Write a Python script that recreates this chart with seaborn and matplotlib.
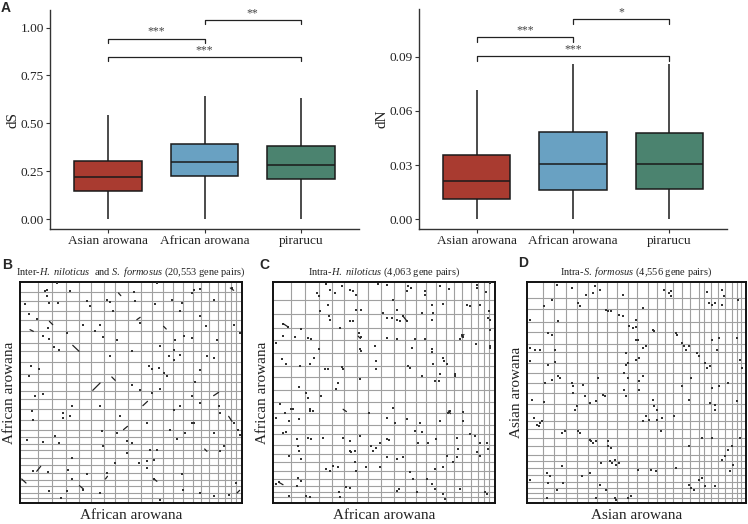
import numpy as np
import pandas as pd
import matplotlib
matplotlib.use("Agg")
import matplotlib.pyplot as plt
import seaborn as sns

sns.set_theme(style="white")
plt.rcParams["font.family"] = ["Liberation Serif", "DejaVu Serif"]
plt.rcParams["mathtext.fontset"] = "custom"
plt.rcParams["mathtext.rm"] = "Liberation Serif"
plt.rcParams["mathtext.it"] = "Liberation Serif:italic"

# ---------------- data: panel A (five-number summaries: min, q1, median, q3, max)
species = ["Asian arowana", "African arowana", "pirarucu"]
box_colors = ["#A93B30", "#69A1C2", "#4B836F"]
ds_asian = [0.0, 0.146, 0.221, 0.304, 0.543]
ds_african = [0.0, 0.226, 0.296, 0.391, 0.645]
ds_pirarucu = [0.0, 0.210, 0.282, 0.381, 0.633]
dn_asian = [0.0, 0.0111, 0.0213, 0.0354, 0.0717]
dn_african = [0.0, 0.0163, 0.0307, 0.0481, 0.0861]
dn_pirarucu = [0.0, 0.0167, 0.0307, 0.0480, 0.0861]
ds_ticks = [0.00, 0.25, 0.50, 0.75, 1.00]
dn_ticks = [0.00, 0.03, 0.06, 0.09]
bracket_left = [0, 1, 0]
bracket_right = [1, 2, 2]
bracket_labels_ds = ["***", "**", "***"]
bracket_labels_dn = ["***", "*", "***"]
ds_bracket_y = [0.943, 1.040, 0.847]
dn_bracket_y = [0.1009, 0.1109, 0.0904]

# ---------------- data: dot plots (positions in Mb; genome lengths)
HN_LEN = 665
SF_LEN = 663
# chromosome boundaries as percent of genome
hn_bounds = [8.3, 14.5, 20.8, 26.4, 32.2, 37.8, 43.0, 48.7, 54.4, 59.5, 64.6,
             68.8, 73.6, 77.9, 81.6, 85.3, 89.2, 92.3, 94.9, 97.3]
sf_bounds_B = [4.5, 8.4, 13.2, 17.4, 22.2, 27.4, 31.4, 36.4, 41.6, 45.4, 49.1,
               52.8, 57.3, 62.6, 67.1, 70.1, 73.1, 76.0, 79.8, 82.8, 86.5, 89.5,
               92.5, 95.5, 97.8]
sf_bounds = [7.3, 12.2, 18.0, 22.7, 27.9, 31.8, 36.6, 41.2, 45.9, 50.4, 55.2,
             59.4, 63.0, 66.7, 70.6, 74.4, 78.4, 80.9, 84.1, 87.4, 90.4, 93.4,
             95.7, 97.6]

B_x = [75, 80, 80, 110, 150, 88, 115, 15, 28, 50, 85, 70, 88, 102, 118, 140, 32, 28, 58, 70,
       45, 35, 40, 130, 130, 150, 155, 22, 68, 118, 105, 155, 38, 85, 145, 155, 88, 140, 122, 190,
       202, 240, 260, 285, 320, 355, 380, 402, 400, 420, 485, 488, 538, 580, 625, 648, 600, 610, 580, 520,
       495, 515, 470, 450, 460, 480, 515, 540, 595, 600, 640, 652, 658, 525, 540, 560, 580, 590, 660, 640,
       580, 520, 540, 635, 540, 515, 490, 465, 460, 420, 385, 395, 415, 430, 440, 460, 480, 445, 335, 270,
       240, 190, 200, 210, 260, 270, 280, 340, 345, 405, 410, 455, 485, 480, 515, 558, 290, 225, 250, 360,
       335, 360, 395, 420, 300, 240, 245, 290, 250, 335, 320, 380, 390, 410, 380]
B_y = [28, 23, 41, 3, 28, 63, 63, 65, 95, 111, 138, 161, 171, 195, 203, 153, 251, 281, 261, 335,
       343, 388, 413, 393, 408, 403, 373, 475, 481, 483, 463, 528, 568, 571, 563, 591, 628, 628, 648, 623,
       575, 633, 573, 543, 513, 543, 558, 535, 591, 653, 575, 623, 633, 641, 638, 603, 508, 493, 453, 423,
       453, 423, 471, 443, 383, 373, 343, 363, 371, 393, 423, 443, 458, 301, 263, 223, 228, 173, 153, 128,
       53, 23, 21, 18, 103, 168, 163, 173, 203, 193, 251, 261, 258, 273, 281, 233, 218, 223, 208, 223,
       129, 128, 58, 73, 53, 61, 88, 31, 58, 65, 3, 53, 63, 88, 33, 131, 173, 148, 165, 123,
       308, 323, 333, 321, 403, 373, 448, 453, 493, 483, 478, 423, 503, 503, 538]
B_seg_x0 = [158, 218, 275, 88, 295, 350, 368, 310, 50, 5, 178, 580, 625, 430, 553, 256, 30, 402, 630, 650]
B_seg_y0 = [190, 325, 285, 118, 33, 113, 371, 443, 568, 591, 611, 341, 403, 133, 501, 591, 143, 591, 18, 633]
B_seg_x1 = [177, 240, 285, 98, 302, 360, 382, 322, 62, 18, 190, 595, 635, 438, 560, 262, 40, 410, 640, 658]
B_seg_y1 = [208, 303, 295, 128, 41, 106, 358, 433, 553, 603, 621, 331, 418, 141, 508, 583, 148, 598, 25, 625]

C_x = [158, 132, 138, 170, 185, 240, 250, 230, 208, 315, 340, 405, 412, 400, 455, 455, 500, 528, 610, 612,
       638, 650, 358, 370, 388, 400, 370, 380, 340, 355, 330, 265, 250, 230, 240, 200, 168, 170, 140, 165,
       475, 478, 475, 445, 510, 580, 590, 620, 648, 645, 650, 650, 30, 45, 65, 30, 85, 105, 115, 10,
       138, 122, 110, 82, 28, 38, 155, 165, 208, 210, 260, 265, 258, 265, 305, 340, 370, 415, 425, 455,
       475, 475, 510, 512, 520, 560, 568, 565, 608, 650, 650, 480, 545, 545, 500, 498, 485, 445, 405, 410,
       310, 310, 260, 195, 190, 78, 100, 105, 110, 110, 120, 145, 60, 35, 20, 10, 55, 78, 48, 30,
       40, 72, 75, 78, 85, 48, 105, 115, 150, 210, 230, 230, 235, 245, 260, 295, 300, 310, 320, 340,
       348, 288, 340, 360, 365, 400, 440, 425, 445, 435, 465, 488, 500, 525, 530, 568, 570, 590, 605, 620,
       640, 645, 610, 620, 550, 540, 555, 520, 510, 485, 460, 475, 485, 410, 420, 390, 370, 340, 320, 280,
       245, 250, 220, 230, 200, 198, 170, 160, 180, 195, 75, 85, 18, 10, 72, 100, 110, 48, 370, 378,
       430, 510, 515, 560, 635, 640, 550]
C_y = [6, 33, 43, 23, 33, 28, 38, 23, 11, 6, 8, 11, 18, 28, 28, 38, 13, 21, 8, 18,
       31, 3, 55, 83, 101, 116, 113, 118, 108, 108, 93, 83, 83, 118, 118, 138, 103, 113, 86, 68,
       68, 93, 113, 93, 66, 68, 73, 68, 88, 108, 113, 143, 125, 135, 165, 163, 140, 168, 173, 183,
       201, 228, 248, 253, 233, 248, 261, 263, 255, 261, 203, 208, 153, 165, 193, 168, 173, 198, 173, 171,
       203, 211, 228, 238, 248, 173, 165, 158, 188, 193, 198, 248, 278, 283, 278, 298, 298, 283, 253, 258,
       238, 263, 293, 305, 323, 315, 333, 348, 383, 388, 388, 343, 381, 393, 368, 408, 383, 413, 418, 453,
       451, 473, 493, 508, 533, 523, 468, 471, 468, 468, 478, 508, 513, 508, 463, 493, 508, 498, 483, 473,
       476, 393, 408, 378, 423, 413, 423, 448, 451, 483, 483, 473, 418, 393, 388, 418, 391, 458, 463, 483,
       483, 503, 513, 523, 528, 543, 503, 523, 558, 563, 593, 608, 623, 571, 593, 528, 533, 528, 558, 558,
       543, 568, 618, 621, 648, 633, 568, 563, 553, 558, 591, 598, 603, 608, 613, 643, 648, 643, 628, 623,
       633, 638, 653, 623, 633, 638, 468]
C_seg_x0 = [30, 388, 525, 255, 565, 210, 18]
C_seg_y0 = [125, 101, 388, 163, 165, 383, 603]
C_seg_x1 = [45, 400, 532, 262, 572, 220, 30]
C_seg_y1 = [135, 116, 396, 170, 158, 390, 610]

D_x = [415, 430, 435, 435, 545, 550, 560, 570, 590, 595, 590, 640, 75, 50, 155, 160, 240, 245, 255, 280,
       290, 330, 350, 290, 220, 200, 180, 205, 135, 90, 10, 95, 65, 75, 10, 25, 40, 85, 10, 65,
       85, 95, 100, 135, 140, 140, 170, 75, 55, 15, 50, 150, 145, 175, 190, 210, 230, 235, 215, 295,
       305, 295, 340, 350, 300, 340, 300, 300, 330, 340, 360, 335, 380, 385, 310, 320, 330, 330, 350, 305,
       450, 455, 470, 475, 480, 490, 515, 520, 540, 545, 555, 560, 580, 575, 635, 645, 650, 560, 580, 610,
       635, 570, 570, 380, 385, 395, 360, 370, 395, 410, 350, 405, 445, 490, 470, 495, 20, 30, 40, 35,
       45, 105, 115, 155, 160, 190, 195, 200, 210, 245, 245, 255, 250, 258, 265, 270, 280, 225, 190, 220,
       240, 265, 270, 305, 315, 210, 10, 60, 70, 65, 90, 110, 105, 165, 60, 335, 375, 390, 450, 490,
       495, 505, 520, 530, 540, 570, 610, 620, 600, 590, 625, 490, 530, 560, 615, 645, 555]
D_y = [23, 33, 41, 28, 31, 63, 68, 63, 68, 43, 23, 53, 53, 73, 63, 73, 83, 88, 86, 98,
       103, 113, 78, 38, 23, 33, 38, 11, 18, 8, 113, 118, 153, 158, 198, 203, 203, 203, 238, 248,
       241, 283, 288, 303, 313, 333, 308, 293, 303, 353, 361, 373, 383, 343, 363, 358, 338, 343, 288, 273,
       288, 323, 298, 283, 343, 323, 248, 213, 233, 228, 193, 173, 143, 148, 133, 138, 135, 173, 198, 243,
       153, 158, 183, 193, 203, 193, 213, 221, 243, 258, 253, 173, 168, 203, 168, 233, 258, 318, 313, 303,
       358, 368, 383, 353, 373, 383, 403, 413, 413, 408, 418, 448, 403, 353, 313, 288, 408, 428, 423, 433,
       418, 453, 448, 448, 453, 473, 478, 483, 478, 478, 493, 498, 538, 543, 533, 548, 543, 543, 573, 608,
       623, 648, 653, 648, 643, 648, 593, 573, 583, 603, 623, 603, 553, 583, 648, 563, 563, 568, 558, 608,
       618, 623, 593, 588, 613, 613, 503, 493, 523, 533, 548, 493, 468, 468, 568, 468, 363]

# ---------------- figure
W, H = 748, 524
fig = plt.figure(figsize=(W / 100, H / 100), dpi=100)


def add_ax(left, right, top, bottom):
    return fig.add_axes([left / W, 1 - bottom / H, (right - left) / W, (bottom - top) / H])


def box_panel(ax, vals, name, ticks, ylim, bracket_y, labels, tip, fmt):
    df = pd.DataFrame({
        "species": np.repeat(species, 5),
        name: np.concatenate(vals),
    })
    sns.boxplot(data=df, x="species", y=name, hue="species", order=species,
                hue_order=species, palette=box_colors, saturation=1,
                whis=np.inf, width=0.7, linewidth=1.1, linecolor="#1a1a1a",
                showcaps=False, legend=False, ax=ax)
    ax.set_xlim(-0.6, 2.6)
    ax.set_ylim(*ylim)
    ax.set_yticks(ticks)
    ax.set_yticklabels([fmt.format(t) for t in ticks])
    ax.set_xlabel("")
    ax.set_ylabel(name, fontsize=11, color="#222", labelpad=0.5)
    for s in ["top", "right"]:
        ax.spines[s].set_visible(False)
    for s in ["left", "bottom"]:
        ax.spines[s].set_color("#333")
        ax.spines[s].set_linewidth(1.0)
    ax.tick_params(axis="both", length=3, width=0.8, color="#333",
                   labelsize=9.6, labelcolor="#222", pad=1.5, bottom=True, left=True)
    for l, r, y, lab in zip(bracket_left, bracket_right, bracket_y, labels):
        ax.plot([l, l, r, r], [y - tip, y, y, y - tip], color="#222", lw=0.9)
        ax.text((l + r) / 2, y + tip * 0.2, lab, ha="center", va="bottom",
                fontsize=8.5, color="#444")


axA1 = add_ax(50, 359, 10, 229)
box_panel(axA1, [ds_asian, ds_african, ds_pirarucu], "dS", ds_ticks,
          (-0.052, 1.092), ds_bracket_y, bracket_labels_ds, 0.022, "{:.2f}")
axA2 = add_ax(419, 727, 9, 229)
box_panel(axA2, [dn_asian, dn_african, dn_pirarucu], "dN", dn_ticks,
          (-0.0054, 0.1165), dn_bracket_y, bracket_labels_dn, 0.0027, "{:.2f}")


def dot_panel(ax, xlen, ylen, xb, yb, xs, ys, sx0, sy0, sx1, sy1, title, xlabel, ylabel):
    for b in xb:
        ax.axvline(b / 100 * xlen, color="#a0a0a0", lw=0.8, zorder=1)
    for b in yb:
        ax.axhline(b / 100 * ylen, color="#a0a0a0", lw=0.8, zorder=1)
    sns.scatterplot(x=xs, y=ys, ax=ax, marker="s", s=1.4, color="#333333",
                    linewidth=0, zorder=3)
    for a, b, c, d in zip(sx0, sy0, sx1, sy1):
        ax.plot([a, c], [b, d], color="#222", lw=0.9, zorder=3)
    ax.set_xlim(0, xlen)
    ax.set_ylim(ylen, 0)
    ax.set_xticks([])
    ax.set_yticks([])
    for s in ax.spines.values():
        s.set_visible(True)
        s.set_color("#111")
        s.set_linewidth(1.4)
    ax.set_title(title, fontsize=7.5, pad=5, color="#222")
    ax.set_xlabel(xlabel, fontsize=11, labelpad=4, color="#222")
    ax.set_ylabel(ylabel, fontsize=11, labelpad=3, color="#222")


axB = add_ax(20, 242, 282, 503)
dot_panel(axB, HN_LEN, SF_LEN, hn_bounds, sf_bounds_B, B_x, B_y,
          B_seg_x0, B_seg_y0, B_seg_x1, B_seg_y1,
          r"Inter-$\it{H.\ niloticus}$  and $\it{S.\ formosus}$ (20,553 gene pairs)",
          "African arowana", "African arowana")
axC = add_ax(273, 495, 282, 503)
dot_panel(axC, HN_LEN, HN_LEN, hn_bounds, hn_bounds, C_x, C_y,
          C_seg_x0, C_seg_y0, C_seg_x1, C_seg_y1,
          r"Intra-$\it{H.\ niloticus}$ (4,063 gene pairs)",
          "African arowana", "African arowana")
axD = add_ax(527, 746, 282, 503)
dot_panel(axD, SF_LEN, SF_LEN, sf_bounds, sf_bounds, D_x, D_y,
          [], [], [], [],
          r"Intra-$\it{S.\ formosus}$ (4,556 gene pairs)",
          "Asian arowana", "Asian arowana")

for lab, x, y in [("A", 6, 8), ("B", 7, 265), ("C", 264, 265), ("D", 523, 263)]:
    fig.text(x / W, 1 - y / H, lab, fontsize=10, fontweight="bold",
             family=["Liberation Sans", "DejaVu Sans"], ha="center", va="center")

fig.savefig("out.png", dpi=100)
